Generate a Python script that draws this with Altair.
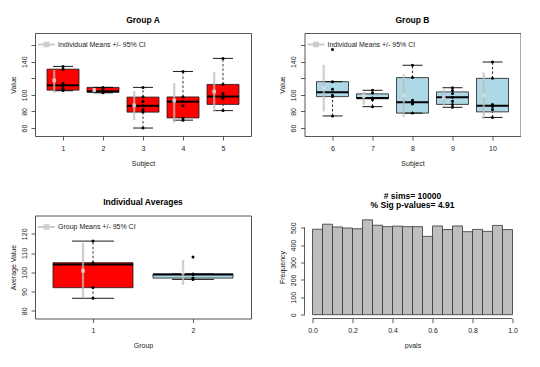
import altair as alt
import pandas as pd

FONT = "Liberation Sans"
TXT = "#222222"
CI_COL = "#BDBDBD"
MEAN_COL = "#E0E0E0"
RED = "#FF0000"
LBLUE = "#ADD8E6"

# ---------------- Group A (subjects 1-5) ----------------
subj_A = [1, 2, 3, 4, 5]
low_A = [105.0, 102.5, 60.0, 69.5, 81.0]
q1_A = [105.7, 103.2, 79.2, 72.2, 88.5]
med_A = [111.5, 104.2, 86.8, 91.8, 98.0]
q3_A = [131.0, 109.0, 97.3, 97.5, 112.6]
high_A = [134.3, 109.0, 109.0, 128.2, 144.0]
mean_A = [117.5, 105.7, 87.3, 93.0, 104.0]
cilo_A = [102.5, 103.0, 69.5, 66.5, 80.2]
cihi_A = [130.0, 108.5, 104.5, 114.2, 127.8]
pts_A = [
    [134.3, 131.0, 113.8, 111.0, 107.7, 105.3],
    [109.0, 107.0, 104.0, 102.5],
    [109.0, 97.3, 92.0, 87.0, 82.0, 79.2, 60.0],
    [128.2, 97.5, 92.0, 87.0, 72.2, 69.5],
    [144.0, 112.6, 101.5, 98.0, 95.5, 81.0],
]

# ---------------- Group B (subjects 6-10) ----------------
subj_B = [6, 7, 8, 9, 10]
low_B = [74.6, 85.8, 78.0, 85.0, 72.8]
q1_B = [97.9, 95.3, 78.0, 88.5, 79.5]
med_B = [103.2, 96.1, 91.2, 97.1, 87.0]
q3_B = [115.9, 101.2, 120.8, 103.6, 119.9]
high_B = [115.9, 105.5, 135.7, 108.6, 139.6]
mean_B = [108.3, 98.5, 99.6, 96.9, 99.6]
cilo_B = [80.0, 88.0, 73.0, 86.5, 71.0]
cihi_B = [136.3, 103.6, 124.9, 106.9, 127.0]
pts_B = [
    [154.6, 115.9, 106.9, 99.6, 97.9, 74.6],
    [105.5, 102.4, 96.3, 95.3, 94.5, 85.8],
    [135.7, 120.8, 93.4, 90.5, 89.0, 78.0],
    [108.6, 105.3, 101.6, 97.1, 92.2, 88.5, 85.0],
    [139.6, 119.9, 88.5, 86.0, 82.5, 72.8],
]

# ---------------- Individual averages by group ----------------
grp = [1, 2]
low_G = [86.5, 96.3]
q1_G = [92.0, 97.0]
med_G = [104.0, 98.9]
q3_G = [105.0, 99.1]
high_G = [116.2, 99.1]
mean_G = [100.8, 100.0]
cilo_G = [86.9, 93.5]
cihi_G = [115.2, 106.4]
pts_G = [
    [116.2, 105.0, 104.3, 92.1, 86.5],
    [107.9, 99.1, 98.9, 97.1, 96.3],
]

# ---------------- Histogram of p-values ----------------
bin_lo = [0.00, 0.05, 0.10, 0.15, 0.20, 0.25, 0.30, 0.35, 0.40, 0.45,
          0.50, 0.55, 0.60, 0.65, 0.70, 0.75, 0.80, 0.85, 0.90, 0.95]
bin_hi = [0.05, 0.10, 0.15, 0.20, 0.25, 0.30, 0.35, 0.40, 0.45, 0.50,
          0.55, 0.60, 0.65, 0.70, 0.75, 0.80, 0.85, 0.90, 0.95, 1.00]
counts = [491, 520, 504, 498, 494, 545, 514, 506, 509, 506,
          506, 450, 510, 489, 510, 477, 490, 479, 513, 489]
hist_xticks = [0.0, 0.2, 0.4, 0.6, 0.8, 1.0]
hist_yticks = [0, 100, 200, 300, 400, 500]

W, H = 216, 103

LEG_PATH = "M-1,0H1M-0.22,-0.22H0.22V0.22H-0.22Z"


def box_panel(subj, low, q1, med, q3, high, mean, cilo, cihi, pts, fills,
              xdom, ydom, yticks, yshown, title, xtitle, ytitle, leg_label,
              box_hw, staple_hw, mean_off):
    n = len(subj)
    df = pd.DataFrame({"s": subj, "low": low, "q1": q1, "med": med, "q3": q3,
                       "high": high, "mean": mean, "cilo": cilo, "cihi": cihi,
                       "fc": fills, "lab": [leg_label] * n})
    pdf = pd.DataFrame([{"s": s, "v": v} for s, vals in zip(subj, pts) for v in vals])
    xs = alt.Scale(domain=xdom, nice=False, zero=False)
    ys = alt.Scale(domain=ydom, nice=False, zero=False)
    base = alt.Chart(df).transform_calculate(
        bl=f"datum.s - {box_hw}", br=f"datum.s + {box_hw}",
        sl=f"datum.s - {staple_hw}", sr=f"datum.s + {staple_hw}",
        xm=f"datum.s - {mean_off}")
    cond = " || ".join(f"datum.value == {v}" for v in yshown)
    xaxis = alt.Axis(values=subj, format="d", title=xtitle, tickSize=4,
                     labelPadding=4, titlePadding=8)
    yaxis = alt.Axis(values=yticks, title=ytitle, labelAngle=270,
                     labelAlign="center", labelBaseline="bottom",
                     labelExpr=f"({cond}) ? datum.label : ''",
                     tickSize=4, labelPadding=4, titlePadding=4)

    def X(f):
        return alt.X(f, scale=xs, axis=xaxis)

    def Y(f):
        return alt.Y(f, scale=ys, axis=yaxis)

    boxes = base.mark_rect(stroke="#1a1a1a", strokeWidth=0.8).encode(
        x=X("bl:Q"), x2="br:Q", y=Y("q1:Q"), y2="q3:Q",
        fill=alt.Fill("fc:N", scale=None))
    medians = base.mark_rule(color="black", strokeWidth=2).encode(
        x=X("bl:Q"), x2="br:Q", y=Y("med:Q"))
    wh_up = base.mark_rule(color="black", strokeWidth=0.8, strokeDash=[2.5, 2]).encode(
        x=X("s:Q"), y=Y("q3:Q"), y2="high:Q")
    wh_lo = base.mark_rule(color="black", strokeWidth=0.8, strokeDash=[2.5, 2]).encode(
        x=X("s:Q"), y=Y("low:Q"), y2="q1:Q")
    st_up = base.mark_rule(color="black", strokeWidth=0.9).encode(
        x=X("sl:Q"), x2="sr:Q", y=Y("high:Q"))
    st_lo = base.mark_rule(color="black", strokeWidth=0.9).encode(
        x=X("sl:Q"), x2="sr:Q", y=Y("low:Q"))
    ci = base.mark_rule(strokeWidth=2.2, opacity=0.75).encode(
        x=X("xm:Q"), y=Y("cilo:Q"), y2="cihi:Q",
        color=alt.Color("lab:N",
                        scale=alt.Scale(domain=[leg_label], range=[CI_COL]),
                        legend=alt.Legend(title=None, orient="top-left", offset=2,
                                          padding=0, symbolType=LEG_PATH,
                                          symbolSize=289, symbolStrokeWidth=2,
                                          labelFontSize=7, labelOffset=2,
                                          labelColor=TXT, labelFont=FONT)))
    means = base.mark_square(size=14, color=MEAN_COL, opacity=0.75).encode(
        x=X("xm:Q"), y=Y("mean:Q"))
    dots = alt.Chart(pdf).mark_circle(size=9, color="black", opacity=1).encode(
        x=X("s:Q"), y=Y("v:Q"))
    return alt.layer(boxes, medians, wh_up, wh_lo, st_up, st_lo, ci, means, dots).properties(
        width=W, height=H,
        title=alt.TitleParams(text=title, offset=9))


top_yticks = [60, 80, 100, 120, 140, 160]
top_shown = [60, 80, 100, 140]

pA = box_panel(subj_A, low_A, q1_A, med_A, q3_A, high_A, mean_A, cilo_A, cihi_A,
               pts_A, [RED] * 5, [0.3, 5.7], [50.4, 174.6], top_yticks, top_shown,
               "Group A", "Subject", "Value", "Individual Means +/- 95% CI",
               0.4, 0.25, 0.22)
pB = box_panel(subj_B, low_B, q1_B, med_B, q3_B, high_B, mean_B, cilo_B, cihi_B,
               pts_B, [LBLUE] * 5, [5.3, 10.7], [50.4, 174.6], top_yticks, top_shown,
               "Group B", "Subject", "Value", "Individual Means +/- 95% CI",
               0.4, 0.25, 0.22)
pC = box_panel(grp, low_G, q1_G, med_G, q3_G, high_G, mean_G, cilo_G, cihi_G,
               pts_G, [RED, LBLUE], [0.42, 2.58], [76.0, 129.5],
               [80, 90, 100, 110, 120], [80, 90, 100, 110, 120],
               "Individual Averages", "Group", "Average Value", "Group Means +/- 95% CI",
               0.4, 0.21, 0.1)

# histogram
hdf = pd.DataFrame({"b0": bin_lo, "b1": bin_hi, "n": counts})
hxs = alt.Scale(domain=[-0.04, 1.04], nice=False, zero=False)
hys = alt.Scale(domain=[-22, 570], nice=False, zero=False)
hxaxis = alt.Axis(values=hist_xticks, format=".1f", title="pvals",
                  tickSize=4, labelPadding=4, titlePadding=8)
hyaxis = alt.Axis(values=hist_yticks, title="Frequency", labelAngle=270,
                  labelAlign="center", labelBaseline="bottom",
                  tickSize=4, labelPadding=4, titlePadding=4)
bars = alt.Chart(hdf).transform_calculate(z="0").mark_rect(
    fill="#BEBEBE", stroke="#333333", strokeWidth=0.8).encode(
    x=alt.X("b0:Q", scale=hxs, axis=hxaxis), x2="b1:Q",
    y=alt.Y("n:Q", scale=hys, axis=hyaxis), y2="z:Q")
xline = alt.Chart(pd.DataFrame({"a": [hist_xticks[0]], "b": [hist_xticks[-1]]})).mark_rule(
    color="#333333", strokeWidth=0.8).encode(
    x=alt.X("a:Q", scale=hxs, axis=hxaxis), x2="b:Q", y=alt.value(H))
yline = alt.Chart(pd.DataFrame({"a": [hist_yticks[0]], "b": [hist_yticks[-1]]})).mark_rule(
    color="#333333", strokeWidth=0.8).encode(
    y=alt.Y("a:Q", scale=hys, axis=hyaxis), y2="b:Q", x=alt.value(0))
pD = alt.layer(bars, xline, yline).properties(
    width=W, height=H,
    view=alt.ViewBackground(stroke="transparent"),
    title=alt.TitleParams(text=["# sims= 10000", "% Sig p-values= 4.91"],
                          offset=6, lineHeight=9))

chart = alt.concat(pA, pB, pC, pD, columns=2,
                   spacing={"row": 79.5, "column": 53.5},
                   bounds="flush").resolve_scale(color="independent").properties(
    padding={"left": 0, "top": 7, "right": 0, "bottom": 0}
).configure_view(stroke="#555555", strokeWidth=1).configure_axis(
    domain=False, grid=False, labelFont=FONT, titleFont=FONT,
    labelFontSize=7, titleFontSize=7, titleFontWeight="normal",
    labelColor=TXT, titleColor=TXT, tickColor="#333333", tickWidth=0.8
).configure_title(font=FONT, fontSize=8.5, fontWeight="bold", color="black",
                  anchor="middle").configure_legend(labelFont=FONT, labelFontSize=7,
                                                    labelColor=TXT)

chart.save("out.html", embed_options={"renderer": "svg", "actions": False})
